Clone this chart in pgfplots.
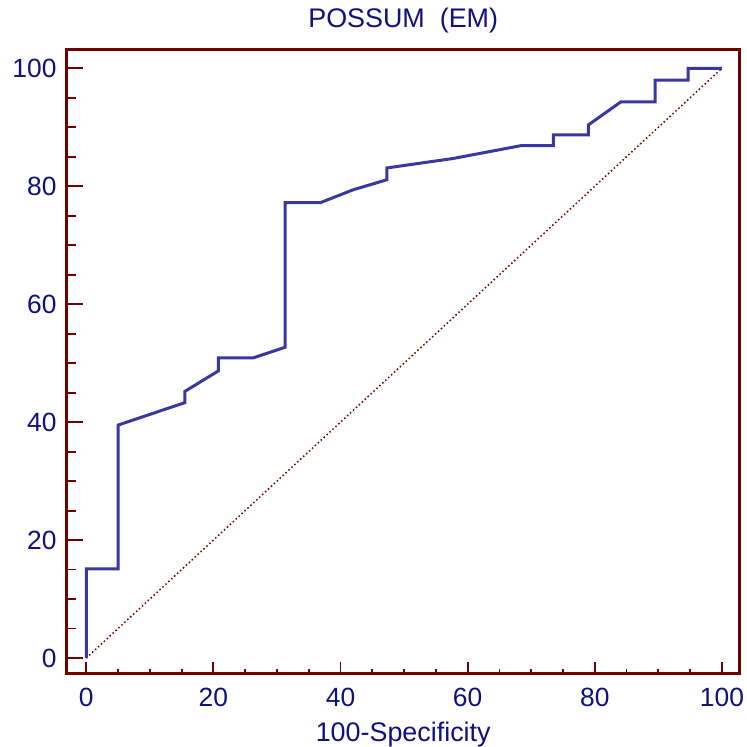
\documentclass[border=0pt]{standalone}
\usepackage{fontspec}
\setmainfont{Liberation Sans}
\usepackage{pgfplots}
\pgfplotsset{compat=1.18}
\definecolor{framered}{RGB}{112,0,0}
\definecolor{rocblue}{RGB}{56,56,160}
\definecolor{textnavy}{RGB}{16,16,128}

\begin{document}
\begin{tikzpicture}
\begin{axis}[
    scale only axis,
    width=673.3bp, height=624bp,
    xmin=-3.08, xmax=102.8,
    ymin=-2.66, ymax=103.1,
    axis line style={framered, line width=3bp},
    tick pos=left,
    tick align=inside,
    xtick={0,20,...,100}, ytick={0,20,...,100},
    minor xtick={5,10,15,25,30,35,45,50,55,65,70,75,85,90,95},
    minor ytick={5,10,15,25,30,35,45,50,55,65,70,75,85,90,95},
    major tick length=16.6bp, minor tick length=9.3bp,
    xtick style={/pgfplots/major tick length=11.7bp, /pgfplots/minor tick length=4.7bp},
    every tick/.style={framered, line width=1.8bp},
    /pgf/number format/assume math mode=true,
    ticklabel style={font=\fontsize{26.5}{30}\selectfont, text=textnavy, inner sep=0pt},
    yticklabel style={anchor=east, xshift=-10bp},
    xticklabel style={anchor=north, yshift=-14bp},
    xlabel={100-Specificity},
    xlabel style={font=\fontsize{27}{30}\selectfont, text=textnavy, inner sep=0pt, anchor=base, at={(axis description cs:0.5,0)}, yshift=-67.7bp},
    title={POSSUM\ \ (EM)},
    title style={font=\fontsize{27}{30}\selectfont, text=textnavy, inner sep=0pt, anchor=base, yshift=16.7bp},
    clip=false,
]
\addplot[framered, line width=1.5bp, dash pattern=on 1.5bp off 2.5bp] coordinates {(0,0) (100,100)};
\addplot[rocblue, line width=3bp, line join=miter] coordinates {
    (0,0) (0,15.1) (5.0,15.1) (5.0,39.5) (15.5,43.3) (15.5,45.2)
    (20.8,48.7) (20.8,50.9) (26.3,50.9) (31.3,52.7) (31.3,77.2)
    (36.8,77.2) (42.0,79.4) (47.3,81.1) (47.3,83.1) (57.7,84.7)
    (68.5,86.9) (73.5,86.9) (73.5,88.7) (79.0,88.7) (79.0,90.4)
    (84.1,94.3) (89.5,94.3) (89.5,98.0) (94.7,98.0) (94.7,100)
    (100,100)
};
\end{axis}
\path (current axis.south west) ++(-66.7bp,-73bp) (current axis.north east) ++(7bp,50bp);
\end{tikzpicture}
\end{document}
